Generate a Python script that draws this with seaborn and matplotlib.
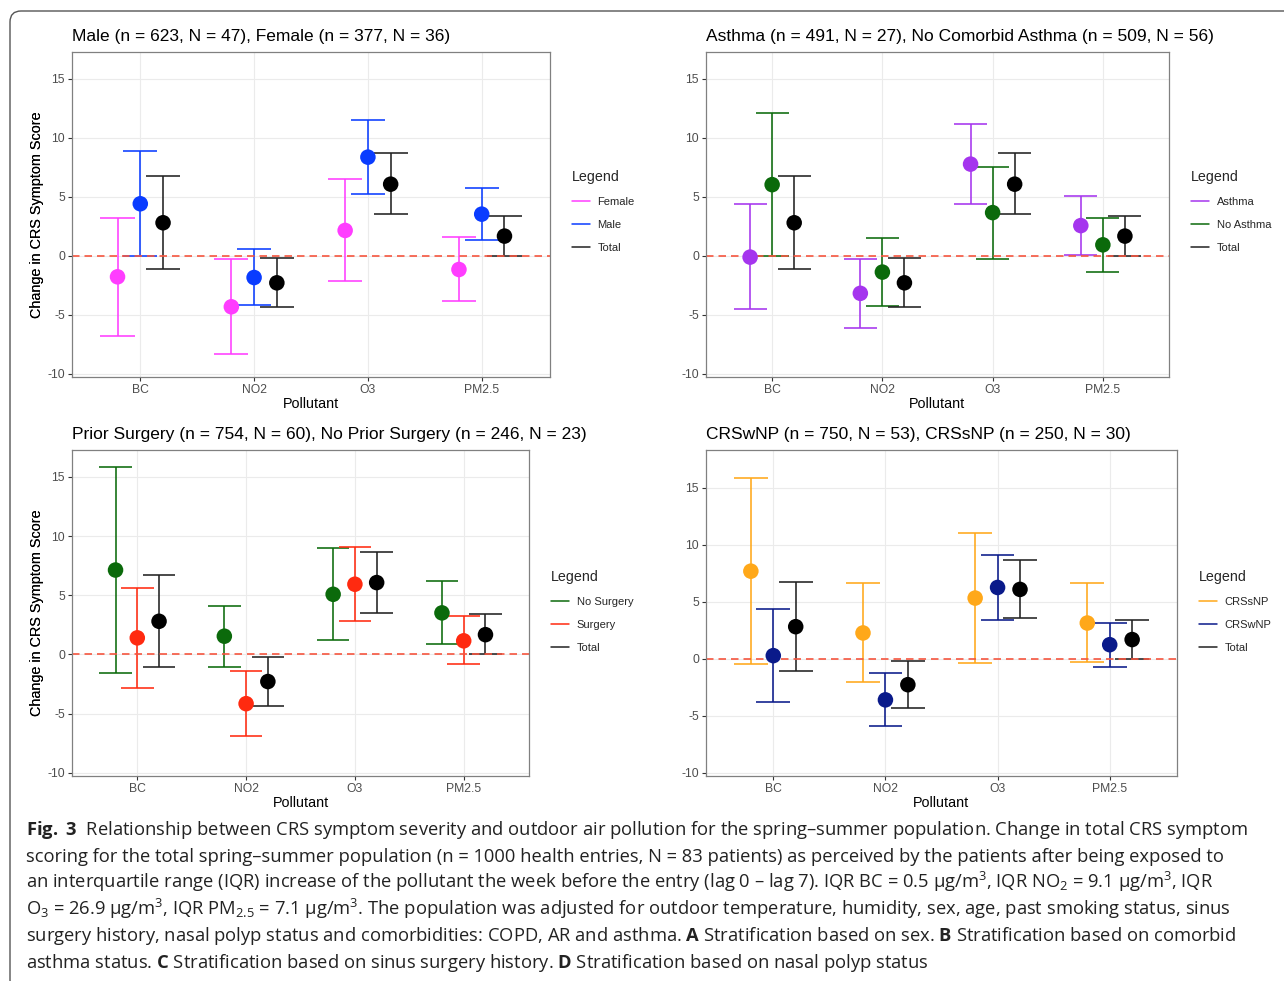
import numpy as np
import pandas as pd
import matplotlib
matplotlib.use('Agg')
import matplotlib.pyplot as plt
import matplotlib.transforms as mtransforms
from matplotlib.lines import Line2D
from matplotlib.patches import FancyBboxPatch
import seaborn as sns

W, H = 1284, 981

# ── Data ───────────────────────────────────────────────────────────────
pollutants = ['BC', 'NO2', 'O3', 'PM2.5']

total_est = [2.80, -2.29, 6.07, 1.67]
total_lo  = [-1.10, -4.32, 3.53, 0.00]
total_hi  = [6.75, -0.20, 8.67, 3.39]

female_est = [-1.78, -4.32, 2.15, -1.16]
female_lo  = [-6.81, -8.31, -2.15, -3.81]
female_hi  = [3.22, -0.28, 6.47, 1.58]
male_est   = [4.41, -1.84, 8.36, 3.53]
male_lo    = [0.00, -4.21, 5.23, 1.36]
male_hi    = [8.84, 0.56, 11.55, 5.71]

asthma_est   = [-0.11, -3.18, 7.77, 2.56]
asthma_lo    = [-4.51, -6.11, 4.39, 0.08]
asthma_hi    = [4.37, -0.23, 11.13, 5.10]
noasthma_est = [6.03, -1.38, 3.66, 0.93]
noasthma_lo  = [0.00, -4.28, -0.31, -1.38]
noasthma_hi  = [12.11, 1.49, 7.52, 3.24]

nosurg_est = [7.13, 1.54, 5.08, 3.51]
nosurg_lo  = [-1.54, -1.04, 1.26, 0.84]
nosurg_hi  = [15.81, 4.10, 8.99, 6.24]
surg_est   = [1.40, -4.16, 5.93, 1.15]
surg_lo    = [-2.87, -6.88, 2.81, -0.84]
surg_hi    = [5.62, -1.43, 9.07, 3.23]

crssnp_est = [7.67, 2.25, 5.31, 3.12]
crssnp_lo  = [-0.50, -2.07, -0.41, -0.32]
crssnp_hi  = [15.86, 6.59, 11.05, 6.59]
crswnp_est = [0.26, -3.62, 6.24, 1.22]
crswnp_lo  = [-3.82, -5.95, 3.41, -0.73]
crswnp_hi  = [4.32, -1.28, 9.07, 3.12]

caption_lines = [
    r'$\mathbf{Fig.\ 3}$  Relationship between CRS symptom severity and outdoor air pollution for the spring–summer population. Change in total CRS symptom',
    r'scoring for the total spring–summer population (n = 1000 health entries, N = 83 patients) as perceived by the patients after being exposed to',
    r'an interquartile range (IQR) increase of the pollutant the week before the entry (lag 0 – lag 7). IQR BC = 0.5 μg/$\mathrm{m}^{3}$, IQR $\mathrm{NO}_{2}$ = 9.1 μg/$\mathrm{m}^{3}$, IQR',
    r'$\mathrm{O}_{3}$ = 26.9 μg/$\mathrm{m}^{3}$, IQR $\mathrm{PM}_{2.5}$ = 7.1 μg/$\mathrm{m}^{3}$. The population was adjusted for outdoor temperature, humidity, sex, age, past smoking status, sinus',
    r'surgery history, nasal polyp status and comorbidities: COPD, AR and asthma. $\mathbf{A}$ Stratification based on sex. $\mathbf{B}$ Stratification based on comorbid',
    r'asthma status. $\mathbf{C}$ Stratification based on sinus surgery history. $\mathbf{D}$ Stratification based on nasal polyp status',
]

# ── Panel layout (pixels) ──────────────────────────────────────────────
panels = [
    dict(title='Male (n = 623, N = 47), Female (n = 377, N = 36)',
         groups=[('Female', female_est, female_lo, female_hi, '#FF3DFF'),
                 ('Male', male_est, male_lo, male_hi, '#0A3CFF')],
         box=(72, 52, 550, 377), ylim=(-10.27, 17.27), leg=(572, 170)),
    dict(title='Asthma (n = 491, N = 27), No Comorbid Asthma (n = 509, N = 56)',
         groups=[('Asthma', asthma_est, asthma_lo, asthma_hi, '#A535EE'),
                 ('No Asthma', noasthma_est, noasthma_lo, noasthma_hi, '#0B6A0B')],
         box=(706, 52, 1169, 377), ylim=(-10.27, 17.27), leg=(1191, 170)),
    dict(title='Prior Surgery (n = 754, N = 60), No Prior Surgery (n = 246, N = 23)',
         groups=[('No Surgery', nosurg_est, nosurg_lo, nosurg_hi, '#0B6A0B'),
                 ('Surgery', surg_est, surg_lo, surg_hi, '#FF2A10')],
         box=(72, 450, 529, 776), ylim=(-10.27, 17.27), leg=(551, 570)),
    dict(title='CRSwNP (n = 750, N = 53), CRSsNP (n = 250, N = 30)',
         groups=[('CRSsNP', crssnp_est, crssnp_lo, crssnp_hi, '#FFA81A'),
                 ('CRSwNP', crswnp_est, crswnp_lo, crswnp_hi, '#0A1A8A')],
         box=(706, 450, 1177, 776), ylim=(-10.3, 18.3), leg=(1199, 570)),
]

DODGE = 0.2
CAP = 0.3
ZERO_COL = '#F5553F'

sns.set_theme(style='whitegrid', rc={
    'grid.color': '#EBEBEB',
    'grid.linewidth': 0.8,
    'axes.edgecolor': '#808080',
    'axes.linewidth': 0.9,
})
plt.rcParams['font.family'] = ['Liberation Sans', 'DejaVu Sans']
plt.rcParams['mathtext.fontset'] = 'custom'
plt.rcParams['mathtext.rm'] = 'Open Sans'
plt.rcParams['mathtext.bf'] = 'Open Sans:bold'
plt.rcParams['mathtext.it'] = 'Open Sans:italic'

fig = plt.figure(figsize=(W / 100, H / 100), dpi=100)
fig.patch.set_facecolor('white')


def px_rect(l, t, r, b):
    return [l / W, 1 - b / H, (r - l) / W, (b - t) / H]


for p in panels:
    l, t, r, b = p['box']
    ax = fig.add_axes(px_rect(l, t, r, b))
    ax.set_facecolor('white')

    rows = []
    names = [g[0] for g in p['groups']] + ['Total']
    series = p['groups'] + [('Total', total_est, total_lo, total_hi, '#000000')]
    pal = {}
    for gi, (name, est, lo, hi, col) in enumerate(series):
        pal[name] = col
        for pi, pol in enumerate(pollutants):
            rows.append(dict(Pollutant=pol, Legend=name, est=est[pi],
                             lo=lo[pi], hi=hi[pi],
                             x=pi + (gi - 1) * DODGE))
    df = pd.DataFrame(rows)

    line_cols = df['Legend'].map(lambda n: '#222222' if n == 'Total' else pal[n])
    ax.vlines(df['x'], df['lo'], df['hi'], colors=line_cols, lw=1.15, zorder=2)
    ax.hlines(df['lo'], df['x'] - CAP / 2, df['x'] + CAP / 2,
              colors=line_cols, lw=1.15, zorder=2)
    ax.hlines(df['hi'], df['x'] - CAP / 2, df['x'] + CAP / 2,
              colors=line_cols, lw=1.15, zorder=2)
    ax.axhline(0, color=ZERO_COL, lw=1.2, ls=(0, (4.5, 3)), zorder=2.5)

    sns.scatterplot(data=df, x='x', y='est', hue='Legend', hue_order=names,
                    palette=pal, s=125, linewidth=0, legend=False,
                    ax=ax, zorder=3)

    ax.set_xlim(-0.6, len(pollutants) - 0.4)
    ax.set_ylim(*p['ylim'])
    ax.set_xticks(range(len(pollutants)))
    ax.set_xticklabels(pollutants)
    ax.set_yticks([-10, -5, 0, 5, 10, 15])
    ax.set_yticklabels(['-10', '-5', '0', '5', '10', '15'])
    ax.tick_params(axis='both', which='major', length=3, width=0.8,
                   color='#333333', labelcolor='#4D4D4D', labelsize=8.7,
                   pad=2, bottom=True, left=True)
    ax.grid(True, color='#EBEBEB', lw=0.8)
    for s in ax.spines.values():
        s.set_color('#808080')
        s.set_linewidth(0.9)

    ax.set_xlabel('Pollutant', fontsize=10.4, color='black')
    ax.set_ylabel('Change in CRS Symptom Score', fontsize=10.4, color='black')
    ax.xaxis.set_label_coords(0.5, -20 / (b - t))
    ax.yaxis.set_label_coords(-(l - 44) / (r - l), 0.5)
    ax.set_title(p['title'], loc='left', fontsize=12.5, pad=8, color='black')

    handles = [Line2D([], [], color=('#222222' if n == 'Total' else pal[n]), lw=1.1)
               for n in names]
    lx, ly = p['leg']
    ax.legend(handles, names, title='Legend', loc='upper left',
              bbox_to_anchor=(lx / W, 1 - ly / H),
              bbox_transform=fig.transFigure, frameon=False,
              fontsize=8, title_fontsize=10.3, handlelength=1.6,
              handletextpad=0.7, labelspacing=1.17, borderpad=0,
              borderaxespad=0, alignment='left')

# ── Outer frame ────────────────────────────────────────────────────────
frame = FancyBboxPatch((10, -10), 1300, H - 11 + 10,
                       boxstyle='round,pad=0,rounding_size=11',
                       fill=False, ec='#555555', lw=1.0,
                       transform=mtransforms.IdentityTransform())
fig.add_artist(frame)

# ── Caption ────────────────────────────────────────────────────────────
texts = []
for i, line in enumerate(caption_lines):
    y = 835 + i * 26.6
    t = fig.text(26 / W, 1 - y / H, line, family='Open Sans', fontsize=12,
                 ha='left', va='baseline', color='#222222')
    texts.append(t)

fig.canvas.draw()
renderer = fig.canvas.get_renderer()
w0 = texts[0].get_window_extent(renderer).width
size = 12 * 1222 / w0
for t in texts:
    t.set_fontsize(size)

fig.savefig('out.png', dpi=100, facecolor='white')
